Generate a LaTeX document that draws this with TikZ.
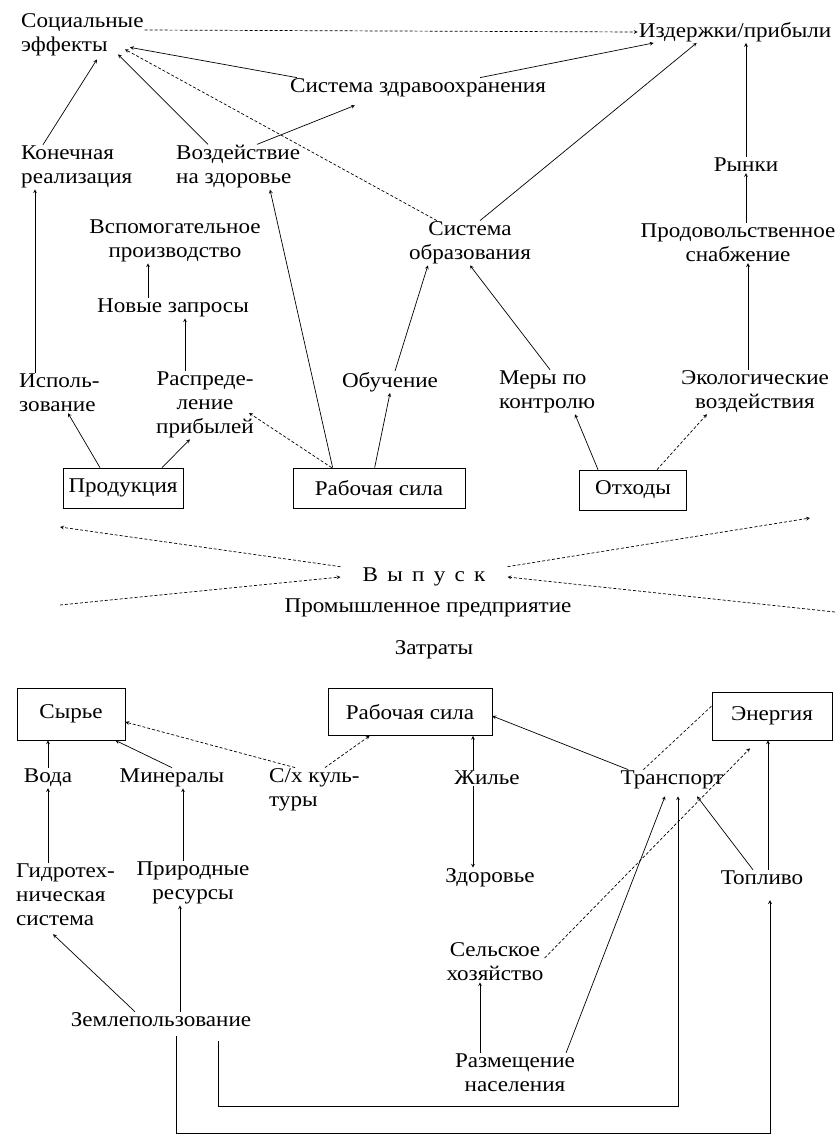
\documentclass[tikz,border=0pt]{standalone}
\usepackage{fontspec}
\setmainfont{Liberation Serif}[FakeStretch=1.1]
\usetikzlibrary{arrows,positioning,calc}

\begin{document}
\begin{tikzpicture}[
    x=1pt, y=-1pt,
    every node/.style={font=\fontsize{21}{24}\selectfont, inner sep=1pt},
    lbl/.style={align=center},
    lbl_left/.style={align=left, anchor=west},
    box/.style={draw, line width=0.7pt, minimum height=40pt},
    arrow/.style={->, >=stealth, line width=0.7pt},
    dash_arrow/.style={->, >=stealth, line width=0.7pt, densely dashed},
    link/.style={line width=0.6pt, densely dashed}
]
\useasboundingbox (0,0) rectangle (839,1141);

% Выпуск: последствия
\node[lbl_left] (social) at (20,35) {Социальные\\эффекты};
\node[lbl] (costs) at (735,32) {Издержки/прибыли};
\node[lbl] (health_sys) at (418,88) {Система здравоохранения};
\node[lbl_left] (final) at (20,167) {Конечная\\реализация};
\node[lbl_left] (impact) at (175,167) {Воздействие\\на здоровье};
\node[lbl] (markets) at (746,165) {Рынки};
\node[lbl] (aux) at (175,241) {Вспомогательное\\производство};
\node[lbl] (edu) at (470,243) {Система\\образования};
\node[lbl] (food) at (738,243) {Продовольственное\\снабжение};
\node[lbl] (requests) at (173,308) {Новые запросы};
\node[lbl_left] (usage) at (18,393) {Исполь-\\зование};
\node[lbl] (distrib) at (205,405) {Распреде-\\ление\\прибылей};
\node[lbl] (training) at (390,382) {Обучение};
\node[lbl_left] (control) at (498,392) {Меры по\\контролю};
\node[lbl] (eco) at (755,392) {Экологические\\воздействия};
\node[box, minimum width=120pt] (product) at (123,488) {Продукция};
\node[box, minimum width=172pt] (labor) at (379,488) {Рабочая сила};
\node[box, minimum width=107pt] (waste) at (633,490) {Отходы};

% предприятие
\node[inner xsep=22pt] (output) at (424,577) {В\, ы\, п\, у\, с\, к};
\node (plant) at (428,608) {Промышленное предприятие};
\node (inputs) at (434,650) {Затраты};
\coordinate (out_left) at (60,527);
\coordinate (out_right) at (810,518);
\coordinate (in_left) at (60,605);
\coordinate (in_right) at (835,612);

% Затраты: источники
\node[box, minimum width=108pt, minimum height=52pt] (raw) at (71,714) {Сырье};
\node[box, minimum width=164pt, minimum height=47pt] (labor_in) at (410,712) {Рабочая сила};
\node[box, minimum width=120pt, minimum height=48pt] (energy) at (772,716) {Энергия};
\node (water) at (48,778) {Вода};
\node (minerals) at (172,778) {Минералы};
\node[lbl_left] (crops) at (268,790) {С/х куль-\\туры};
\node (housing) at (487,778) {Жилье};
\node (transport) at (672,780) {Транспорт};
\node (health) at (490,878) {Здоровье};
\node (fuel) at (762,878) {Топливо};
\node[lbl_left] (hydro) at (15,895) {Гидротех-\\ническая\\система};
\node[lbl] (resources) at (193,883) {Природные\\ресурсы};
\node[lbl] (agri) at (495,962) {Сельское\\хозяйство};
\node (landuse) at (161,1020) {Землепользование};
\node[lbl] (settle) at (515,1073) {Размещение\\населения};

% связи сверху
\draw[dash_arrow] ([yshift=5pt]social.east) -- (costs.west);
\draw[arrow] ([xshift=8pt]health_sys.north west) -- ([xshift=110pt,yshift=10pt]social.south west);
\draw[arrow] ([xshift=62pt]health_sys.north) -- ([xshift=16pt]costs.south west);
\draw[arrow] ([xshift=23pt]final.north west) -- ([xshift=77pt,yshift=-2pt]social.south west);
\draw[arrow] ([xshift=33pt]impact.north west) -- ([xshift=98pt,yshift=3pt]social.south west);
\draw[arrow] ([xshift=82pt]impact.north west) -- ([xshift=66pt,yshift=-7pt]health_sys.south west);
\draw[dash_arrow] ([xshift=29pt]edu.north west) -- ([xshift=105pt,yshift=8pt]social.south west);
\draw[arrow] ([xshift=10pt]edu.north) -- ([xshift=59pt]costs.south west);
\draw[arrow] (markets.north) -- (markets.north |- costs.south);
\draw[arrow] (markets.south |- food.north) -- (markets.south);
\draw[arrow] ([xshift=-7pt]eco.north) -- ([xshift=-7pt]eco.north |- food.south);
\draw[arrow] ([xshift=-25pt]requests.north) -- ([xshift=-25pt]requests.north |- aux.south);
\draw[arrow] ([xshift=-20pt]distrib.north) -- ([xshift=-20pt]distrib.north |- requests.south);
\draw[arrow] ([xshift=17pt]usage.north west) -- ([xshift=17pt]usage.north west |- final.south);
\draw[arrow] ([xshift=40pt]labor.north west) -- ([xshift=95pt]impact.south west);
\draw[dash_arrow] ([xshift=39pt]labor.north west) -- ([xshift=-6pt,yshift=-8pt]distrib.east);
\draw[arrow] ([xshift=82pt]labor.north west) -- (training.south);
\draw[arrow] ([xshift=5pt]training.north) -- ([xshift=20pt]edu.south west);
\draw[arrow] ([xshift=-23pt]product.north) -- ([xshift=50pt]usage.south west);
\draw[arrow] ([xshift=39pt]product.north) -- ([xshift=-15pt]distrib.south);
\draw[arrow] ([xshift=52pt]control.north west) -- (edu.south);
\draw[arrow] ([xshift=-35pt]waste.north) -- ([xshift=77pt]control.south west);
\draw[dash_arrow] ([xshift=24pt]waste.north) -- ([xshift=-48pt]eco.south);

% стрелки у предприятия
\draw[dash_arrow] (output.north west) -- (out_left);
\draw[dash_arrow] (output.north east) -- (out_right);
\draw[dash_arrow] (in_left) -- (output.west);
\draw[dash_arrow] (in_right) -- (output.east);

% связи снизу
\draw[arrow] (water.north) -- (water.north |- raw.south);
\draw[arrow] (water.south |- hydro.north) -- (water.south);
\draw[arrow] (minerals.north) -- ([xshift=-10pt]raw.south east);
\draw[arrow] ([xshift=-10pt]resources.north) -- ([xshift=-10pt]resources.north |- minerals.south);
\draw[dash_arrow] ([xshift=27pt]crops.north west) -- ([yshift=-8pt]raw.east);
\draw[dash_arrow] ([xshift=57pt]crops.north west) -- ([xshift=42pt]labor_in.south west);
\draw[arrow] ([xshift=-14pt]housing.north) -- ([xshift=-14pt]housing.north |- labor_in.south);
\draw[arrow] ([xshift=-14pt]housing.south) -- ([xshift=-14pt]housing.south |- health.north);
\draw[arrow] ([xshift=9pt]transport.north west) -- ([yshift=-4pt]labor_in.east);
\draw[link] ([xshift=24pt]transport.north west) -- ([yshift=10pt]energy.west);
\draw[dash_arrow] ([yshift=4pt]agri.east) -- ([xshift=-22pt,yshift=-8pt]energy.south);
\draw[arrow] ([xshift=-10pt]settle.north east) -- ([xshift=-7pt,yshift=-6pt]transport.south);
\draw[arrow] ([xshift=-35pt]settle.north) -- ([xshift=-35pt]settle.north |- agri.south);
\draw[arrow] ([xshift=-9pt]fuel.north) -- ([xshift=25pt,yshift=-6pt]transport.south);
\draw[arrow] ([xshift=6pt]fuel.north) -- ([xshift=6pt]fuel.north |- energy.south);
\draw[arrow] ([xshift=-26pt]landuse.north) -- ([xshift=38pt,yshift=-7pt]hydro.south west);
\draw[arrow] ([xshift=19pt]landuse.north) -- ([xshift=19pt]landuse.north |- resources.south);
\draw[arrow] ([xshift=57pt,yshift=-13pt]landuse.south) -- ++(0,65) -| ([xshift=6pt,yshift=-6pt]transport.south);
\draw[arrow] ([xshift=15pt,yshift=-8pt]landuse.south) -- ++(0,97) -| ([xshift=8pt,yshift=-14pt]fuel.south);

\end{tikzpicture}
\end{document}
